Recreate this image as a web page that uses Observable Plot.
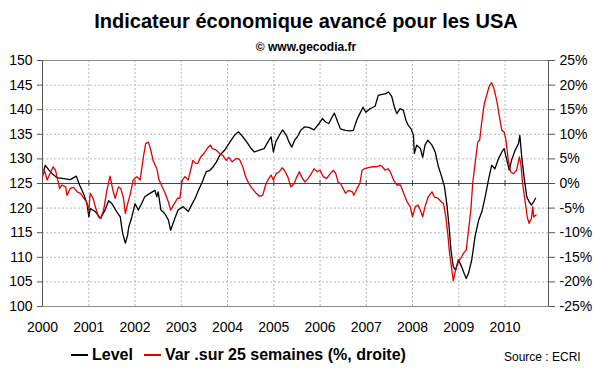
<!DOCTYPE html>
<html>
<head>
<meta charset="utf-8">
<script src="https://cdn.jsdelivr.net/npm/d3@7"></script>
<script src="https://cdn.jsdelivr.net/npm/@observablehq/plot@0.6"></script>
<style>
  html, body { margin: 0; padding: 0; background: #fff; }
  #wrap { position: relative; width: 600px; height: 372px; overflow: hidden; font-family: "Liberation Sans", Arial, sans-serif; color: #000; }
  #title { position: absolute; left: 0; width: 612px; top: 9px; text-align: center; font-size: 20px; font-weight: bold; line-height: 24px; }
  #subtitle { position: absolute; left: 0; width: 612px; top: 40px; text-align: center; font-size: 12px; font-weight: bold; line-height: 14px; }
  #chart { position: absolute; left: 0; top: 0; }
  #legend { position: absolute; left: 71px; top: 345px; font-size: 16px; font-weight: bold; line-height: 20px; display: flex; align-items: center; white-space: nowrap; }
  #legend .sw { display: inline-block; width: 17px; height: 0; border-top: 2px solid; margin-right: 4px; }
  #source { position: absolute; left: 504px; top: 350px; font-size: 12px; line-height: 14px; }
</style>
</head>
<body>
<div id="wrap">
  <div id="chart"></div>
  <div id="title">Indicateur économique avancé pour les USA</div>
  <div id="subtitle">© www.gecodia.fr</div>
  <div id="legend"><span class="sw" style="border-color:#000"></span><span>Level</span><span class="sw" style="border-color:#e00000;margin-left:11px"></span><span>Var .sur 25 semaines (%, droite)</span></div>
  <div id="source">Source : ECRI</div>
</div>
<script>
// ---- Data (decimal years) ----
const levelYears = [
  2000.03,2000.06,2000.14,2000.21,2000.31,2000.46,2000.60,2000.73,2000.80,2000.89,2000.96,
  2001.00,2001.03,2001.14,2001.25,2001.35,2001.43,2001.50,2001.60,2001.68,2001.73,2001.79,2001.84,2001.86,2001.93,
  2002.00,2002.07,2002.14,2002.21,2002.32,2002.43,2002.47,2002.50,2002.56,2002.64,2002.72,2002.77,2002.86,2002.93,
  2003.04,2003.15,2003.22,2003.30,2003.37,2003.44,2003.54,2003.61,2003.68,2003.76,2003.83,2003.94,
  2004.01,2004.08,2004.15,2004.24,2004.33,2004.44,2004.51,2004.58,2004.69,2004.79,2004.87,2004.94,2004.99,
  2005.04,2005.12,2005.19,2005.27,2005.33,2005.39,2005.45,2005.51,2005.58,2005.66,2005.76,2005.87,2005.98,
  2006.05,2006.12,2006.19,2006.26,2006.31,2006.37,2006.44,2006.55,2006.64,2006.72,2006.79,2006.86,2006.93,2006.99,
  2007.08,2007.19,2007.26,2007.34,2007.41,2007.48,2007.55,2007.61,2007.66,2007.73,2007.80,2007.86,2007.91,2007.97,
  2008.02,2008.04,2008.09,2008.17,2008.22,2008.27,2008.33,2008.42,2008.49,2008.56,2008.63,2008.69,2008.74,2008.79,2008.83,2008.88,2008.93,2008.99,
  2009.06,2009.12,2009.16,2009.21,2009.28,2009.35,2009.43,2009.50,2009.57,2009.64,2009.71,2009.78,2009.86,2009.93,2009.98,
  2010.04,2010.09,2010.14,2010.22,2010.29,2010.32,2010.36,2010.41,2010.47,2010.52,2010.57,2010.62,2010.66
];
const levelValues = [
  127.7,128.7,127.7,127.0,126.2,126.0,125.8,126.5,124.7,122.8,120.9,
  118.2,119.9,119.3,117.9,119.6,121.5,120.9,119.3,118.2,114.9,112.9,114.5,116.0,118.2,
  120.9,119.6,120.9,122.3,123.0,123.6,122.3,123.3,119.6,118.9,117.6,115.5,117.9,119.6,
  120.3,119.3,120.6,122.0,123.6,125.0,127.4,127.6,128.3,129.4,130.7,131.8,
  132.8,133.8,134.8,135.5,134.5,133.1,132.1,131.4,131.8,132.1,133.4,134.5,131.4,
  133.4,134.8,135.9,134.8,133.4,132.4,133.8,134.5,135.8,136.5,136.4,135.9,137.2,
  138.2,137.5,137.2,138.5,139.3,137.8,136.1,135.8,135.7,135.8,137.8,139.2,140.5,139.5,
  140.2,140.7,142.9,143.1,143.2,143.6,142.7,140.5,139.2,140.2,139.9,137.8,136.8,136.1,
  134.8,131.1,132.8,132.1,130.3,132.8,133.8,132.8,131.4,128.4,126.4,124.3,120.9,116.2,111.5,108.1,107.4,109.5,
  108.1,106.6,105.7,106.8,109.5,114.2,117.6,119.3,122.3,125.7,128.7,128.0,130.1,131.4,132.1,
  129.7,127.7,129.7,131.8,133.1,134.8,130.5,126.4,122.3,121.3,120.6,121.3,122.0
];
const varYears = [
  2000.00,2000.04,2000.10,2000.16,2000.23,2000.28,2000.33,2000.37,2000.42,2000.50,2000.53,2000.60,2000.67,2000.75,2000.82,2000.89,2000.95,
  2001.00,2001.03,2001.09,2001.14,2001.21,2001.26,2001.32,2001.39,2001.46,2001.52,2001.57,2001.64,2001.69,2001.75,2001.79,2001.84,2001.89,2001.96,
  2002.04,2002.11,2002.18,2002.23,2002.29,2002.34,2002.39,2002.47,2002.52,2002.57,2002.65,2002.72,2002.77,2002.85,2002.92,2002.97,
  2003.02,2003.08,2003.15,2003.22,2003.25,2003.31,2003.36,2003.42,2003.49,2003.56,2003.63,2003.67,2003.74,2003.83,2003.90,2003.97,
  2004.03,2004.10,2004.19,2004.26,2004.33,2004.39,2004.46,2004.53,2004.62,2004.69,2004.76,2004.83,2004.89,2004.94,2004.99,
  2005.05,2005.12,2005.18,2005.23,2005.30,2005.37,2005.44,2005.50,2005.55,2005.60,2005.67,2005.74,2005.81,2005.87,2005.94,
  2006.00,2006.07,2006.14,2006.22,2006.29,2006.34,2006.39,2006.44,2006.50,2006.55,2006.62,2006.70,2006.73,2006.80,2006.86,2006.91,2006.96,
  2007.03,2007.13,2007.22,2007.30,2007.34,2007.41,2007.47,2007.52,2007.59,2007.66,2007.74,2007.81,2007.88,2007.95,
  2008.00,2008.06,2008.12,2008.17,2008.22,2008.27,2008.34,2008.42,2008.47,2008.55,2008.62,2008.67,2008.72,2008.76,2008.80,2008.85,2008.88,2008.93,2008.99,
  2009.06,2009.10,2009.16,2009.21,2009.26,2009.30,2009.36,2009.41,2009.45,2009.50,2009.55,2009.61,2009.66,2009.71,2009.76,2009.82,2009.88,2009.93,2009.98,
  2010.02,2010.07,2010.12,2010.18,2010.25,2010.31,2010.34,2010.38,2010.43,2010.48,2010.52,2010.57,2010.60,2010.62,2010.67
];
const varValues = [
  1.4,2.7,0.7,2.0,3.4,2.7,0.7,-1.0,-0.3,-0.7,-2.4,-1.0,-0.8,-1.7,-2.0,-3.0,-3.7,
  -5.4,-2.0,-3.0,-4.7,-6.8,-7.1,-5.4,-1.4,1.5,-1.4,-3.0,-0.7,-1.0,-3.0,-6.1,-4.1,-2.4,0.7,
  1.4,0.7,5.4,8.1,8.4,6.8,4.7,3.0,0.7,-0.3,-2.0,-3.7,-5.4,-4.1,-3.0,-3.0,
  0.7,1.4,0.7,3.4,4.7,4.1,4.1,5.4,6.1,7.1,7.8,7.1,6.9,6.1,5.7,4.7,
  5.3,4.4,5.1,4.9,3.4,1.4,0.0,-1.0,-2.0,-2.6,-2.4,0.0,1.0,1.7,0.7,
  2.0,2.4,3.2,2.7,1.4,-0.7,0.0,1.4,2.4,1.4,0.3,1.0,2.0,3.0,2.4,
  2.7,1.4,1.0,2.0,2.7,2.0,0.3,0.0,-1.0,-2.0,-1.4,-1.7,-2.4,-1.0,0.0,2.7,3.0,
  3.2,3.4,3.4,3.7,3.5,2.7,3.0,2.4,0.7,-0.3,-0.3,-2.0,-3.7,-4.7,
  -6.8,-4.7,-4.4,-5.4,-6.8,-4.7,-2.7,-1.7,-2.7,-3.0,-3.7,-4.1,-6.8,-10.1,-14.2,-17.6,-19.8,-17.6,-15.9,
  -14.9,-14.2,-13.5,-9.5,-5.4,0.0,4.7,8.4,8.8,12.8,16.2,18.2,19.9,20.5,19.3,16.9,13.5,10.8,10.5,
  8.8,4.7,2.4,2.0,2.7,5.4,4.1,0.0,-3.4,-6.8,-8.1,-7.1,-4.7,-6.8,-6.4
];
const yearTicks = [2000,2001,2002,2003,2004,2005,2006,2007,2008,2009,2010];
const levelTicks = [100,105,110,115,120,125,130,135,140,145,150];
const xStart = 2000, xEnd = 2010.94;
const zeroLevel = 125; // level value where the right axis reads 0%

// ---- helpers ----
function toDate(y) {
  const yr = Math.floor(y);
  const a = Date.UTC(yr, 0, 1), b = Date.UTC(yr + 1, 0, 1);
  return new Date(a + (y - yr) * (b - a));
}
const level = levelYears.map((y, i) => ({date: toDate(y), value: levelValues[i]}));
const varData = varYears.map((y, i) => ({date: toDate(y), pct: varValues[i]}));
const yearDates = yearTicks.map(y => toDate(y));

const chart = Plot.plot({
  width: 600,
  height: 340,
  marginTop: 60,
  marginBottom: 34,
  marginLeft: 42,
  marginRight: 52,
  style: {fontFamily: "'Liberation Sans', Arial, sans-serif", fontSize: "14px", color: "#000", background: "transparent", overflow: "visible"},
  x: {type: "utc", domain: [toDate(xStart), toDate(xEnd)]},
  y: {domain: [100, 150]},
  marks: [
    Plot.gridY(levelTicks.filter(d => d > 100 && d < 150 && d !== zeroLevel), {stroke: "#b8b8b8", strokeOpacity: 1, strokeDasharray: "2,2"}),
    Plot.gridX(yearDates.slice(1), {stroke: "#b8b8b8", strokeOpacity: 1, strokeDasharray: "2,2"}),
    Plot.frame({stroke: "#8a8a8a"}),
    Plot.ruleX([toDate(xStart), toDate(xEnd)], {stroke: "#555"}),
    Plot.ruleY([zeroLevel], {stroke: "#444"}),
    Plot.ruleX(yearDates.slice(1), {x: d => d, y1: () => zeroLevel - 0.6, y2: () => zeroLevel + 0.6, stroke: "#444"}),
    Plot.line(level, {x: "date", y: "value", stroke: "#000", strokeWidth: 1.3}),
    Plot.line(varData, {x: "date", y: d => zeroLevel + d.pct, stroke: "#e00000", strokeWidth: 1.3}),
    Plot.axisY(levelTicks, {anchor: "left", tickSize: 5, tickPadding: 5, stroke: "#555", label: null}),
    Plot.axisY(levelTicks, {anchor: "right", tickSize: 6, tickPadding: 5, stroke: "#555", tickFormat: d => `${d - zeroLevel}%`, label: null}),
    Plot.axisX(yearDates, {anchor: "bottom", tickSize: 0, tickPadding: 16, tickFormat: d => d3.utcFormat("%Y")(d), label: null})
  ]
});
document.getElementById("chart").appendChild(chart);
</script>
</body>
</html>
